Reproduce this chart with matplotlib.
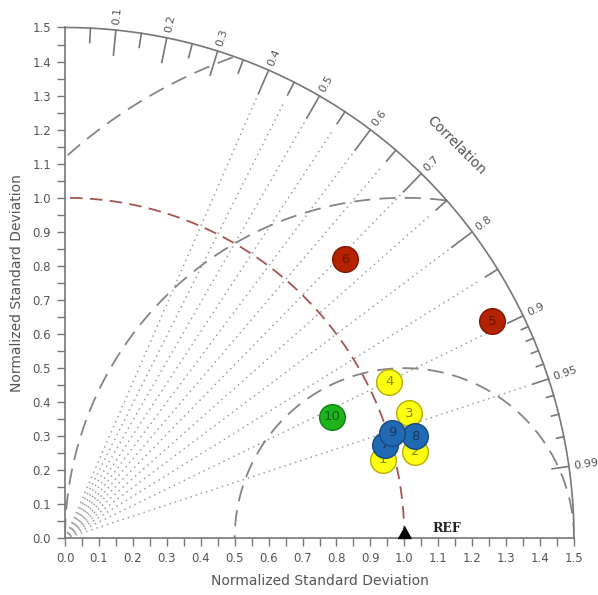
"""
taylor diagram: normalized std dev vs correlation for 10 runs against REF
"""

import numpy as np
import matplotlib
matplotlib.use("Agg")
import matplotlib.pyplot as plt

# ── data ─────────────────────────────────────────────
labels = ["1", "2", "3", "4", "5", "6", "7", "8", "9", "10"]
norm_std = [0.966, 1.063, 1.079, 1.061, 1.412, 1.163, 0.982, 1.074, 1.012, 0.865]
corr = [0.971, 0.971, 0.940, 0.901, 0.892, 0.710, 0.960, 0.960, 0.952, 0.911]
groups = ["yellow", "yellow", "yellow", "yellow", "red", "red", "blue", "blue", "blue", "green"]

ref_std = 1.0
max_std = 1.5
rms_circles = [0.5, 1.0, 1.5]

std_ticks = np.arange(0, 1.51, 0.1)
corr_major = [0.1, 0.2, 0.3, 0.4, 0.5, 0.6, 0.7, 0.8, 0.9, 0.95, 0.99]
corr_minor = [0.05, 0.15, 0.25, 0.35, 0.45, 0.55, 0.65, 0.75, 0.85]
corr_fine = [0.91, 0.92, 0.93, 0.94, 0.96, 0.97, 0.98]
corr_rays = [0.4, 0.45, 0.5, 0.55, 0.6, 0.65, 0.7, 0.75, 0.8, 0.85, 0.9, 0.95]

COLORS = {
    "yellow": ("#ffff14", "#b5ad00", "#8a8400"),
    "red":    ("#b42200", "#7e1800", "#6a1400"),
    "blue":   ("#2169b3", "#164a82", "#16365e"),
    "green":  ("#1db41d", "#128012", "#0c640c"),
}
GRAY = "#777777"
TXT = "#555555"


def polar_xy(r, c):
    th = np.arccos(c)
    return r * np.cos(th), r * np.sin(th)


def main():
    fig = plt.figure(figsize=(5.98, 5.95), dpi=100)
    ax = fig.add_axes([0.1087, 0.0950, 0.8512, 0.8588])
    ax.set_xlim(0, max_std)
    ax.set_ylim(0, max_std)

    for s in ["top", "right"]:
        ax.spines[s].set_visible(False)
    for s in ["left", "bottom"]:
        ax.spines[s].set_color(GRAY)
        ax.spines[s].set_linewidth(1.2)

    ax.set_xticks(std_ticks)
    ax.set_yticks(std_ticks)
    ax.set_xticklabels([f"{v:.1f}" for v in std_ticks])
    ax.set_yticklabels([f"{v:.1f}" for v in std_ticks])
    ax.set_xticks(np.arange(0.05, 1.5, 0.1), minor=True)
    ax.set_yticks(np.arange(0.05, 1.5, 0.1), minor=True)
    ax.tick_params(which="both", direction="out", length=6, width=1.0,
                   color=GRAY, labelcolor=TXT, labelsize=8.5, pad=4)

    ax.set_xlabel("Normalized Standard Deviation", fontsize=10, color=TXT, labelpad=6)
    ax.set_ylabel("Normalized Standard Deviation", fontsize=10, color=TXT, labelpad=6)

    # ── dotted correlation rays ──────────────────────
    rr = np.array([0.0, 1.43])
    for c in corr_rays:
        x, y = polar_xy(rr, c)
        ax.plot(x, y, color="#a0a0a0", lw=1.1, ls=(0, (1, 2.6)), zorder=1)

    # ── centered rms arcs around REF ─────────────────
    t = np.linspace(0, np.pi, 600)
    for R in rms_circles:
        x = ref_std + R * np.cos(t)
        y = R * np.sin(t)
        keep = (x >= 0) & (x**2 + y**2 <= max_std**2 + 1e-9)
        ax.plot(x[keep], y[keep], color="#858585", lw=1.3, ls=(0, (9, 5)), zorder=2)

    # ── std = ref arc (red dashed) ───────────────────
    a = np.linspace(0, np.pi / 2, 300)
    ax.plot(ref_std * np.cos(a), ref_std * np.sin(a), color="#a65450",
            lw=1.3, ls=(0, (7, 4)), zorder=2)

    # ── outer correlation arc with ticks ─────────────
    ax.plot(max_std * np.cos(a), max_std * np.sin(a), color=GRAY, lw=1.2,
            clip_on=False, zorder=3)
    for c in corr_major + corr_minor + corr_fine:
        if c in corr_major:
            ln = 0.074 if c <= 0.8 else 0.05
        elif c in corr_minor:
            ln = 0.042
        else:
            ln = 0.022
        x, y = polar_xy(np.array([max_std - ln, max_std]), c)
        ax.plot(x, y, color=GRAY, lw=1.2, clip_on=False, zorder=3)
    for c in corr_major:
        x, y = polar_xy(1.515, c)
        deg = np.degrees(np.arccos(c))
        ax.text(x, y, f"{c:g}", rotation=deg, rotation_mode="anchor",
                ha="left", va="center", fontsize=8, color=TXT, clip_on=False)
    x, y = polar_xy(1.63, np.cos(np.radians(45)))
    ax.text(x, y, "Correlation", rotation=-45, rotation_mode="anchor",
            ha="center", va="center", fontsize=10, color=TXT)

    # ── reference point ──────────────────────────────
    tri = [(-1, 0), (1, 0), (0, 1.8)]
    ax.plot([ref_std], [0.0], marker=tri, markersize=17, color="black",
            clip_on=False, zorder=6)
    ax.text(ref_std + 0.082, 0.028, "REF", fontsize=9, fontweight="bold",
            family="DejaVu Serif", va="center", ha="left", color="#222222")

    # ── model points ─────────────────────────────────
    for lab, s, c, g in zip(labels, norm_std, corr, groups):
        face, edge, tc = COLORS[g]
        x, y = polar_xy(s, c)
        ax.plot(x, y, "o", markersize=18.5, markerfacecolor=face,
                markeredgecolor=edge, markeredgewidth=1.0, zorder=5)
        ax.text(x, y, lab, ha="center", va="center", fontsize=9.5,
                color=tc, zorder=5)

    fig.savefig("out.png", dpi=100)
    plt.close(fig)


if __name__ == "__main__":
    main()
